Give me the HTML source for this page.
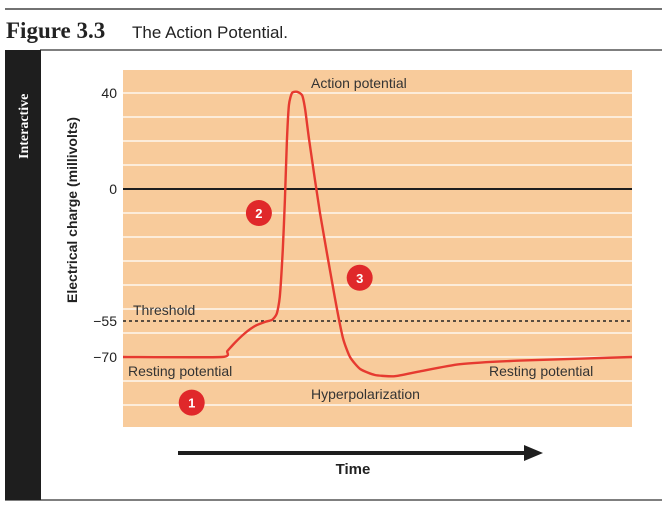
<!DOCTYPE html>
<html><head><meta charset="utf-8"><style>
body{margin:0;background:#fff;width:662px;height:505px;overflow:hidden;font-family:"Liberation Sans",sans-serif}
svg{display:block}
</style></head><body>
<svg width="662" height="505">
<line x1="5" y1="9" x2="662" y2="9" stroke="#444" stroke-width="1.5"/>
<text x="6" y="38" font-family="Liberation Serif,serif" font-weight="bold" font-size="23" fill="#222">Figure 3.3</text>
<text x="132" y="38" font-size="17" fill="#222">The Action Potential.</text>
<line x1="40" y1="50" x2="662" y2="50" stroke="#555" stroke-width="1.5"/>
<line x1="5" y1="500" x2="662" y2="500" stroke="#555" stroke-width="1.5"/>
<rect x="5" y="50" width="36" height="450" fill="#1e1e1e"/>
<text transform="translate(28,159) rotate(-90)" text-anchor="start" font-family="Liberation Serif,serif" font-weight="bold" font-size="14" fill="#fff">Interactive</text>
<rect x="123" y="70" width="509" height="357" fill="#f8cb9b"/>
<g id="grid"></g>
<g id="ticks"></g>
<text transform="translate(77,210) rotate(-90)" text-anchor="middle" font-weight="bold" font-size="14" fill="#222">Electrical charge (millivolts)</text>
<text x="133" y="315" font-size="14" fill="#333">Threshold</text>
<text x="311" y="88" font-size="14" fill="#333">Action potential</text>
<text x="128" y="376" font-size="14" fill="#333">Resting potential</text>
<text x="311" y="399" font-size="14" fill="#333">Hyperpolarization</text>
<text x="489" y="376" font-size="14" fill="#333">Resting potential</text>
<path id="curve" fill="none" stroke="#e63a30" stroke-width="2.4" stroke-linejoin="round"/>
<g id="badges"></g>
<line x1="178" y1="453" x2="526" y2="453" stroke="#1e1e1e" stroke-width="4"/>
<polygon points="524,445 543,453 524,461" fill="#1e1e1e"/>
<text x="353" y="474" text-anchor="middle" font-weight="bold" font-size="15" fill="#222">Time</text>
</svg>
<script>
const gridValues=[40,30,20,10,0,-10,-20,-30,-40,-50,-60,-70,-80,-90];
const tickValues=[40,0,-55,-70];
const tickLabels=["40","0","−55","−70"];
const thresholdValue=-55;
const timePoints=[0,19.4,20.5,22,24,26,28,29.3,30.2,30.8,31.4,31.8,32.2,32.6,33.2,34.2,35.2,35.8,36.6,38.7,41.6,43.2,44.6,46.6,49.5,53.4,58.3,66.2,78,100];
const voltages=[-70,-70,-67.5,-64,-60,-57,-55.3,-54.5,-52,-45,-25,-5,20,35,40,40.5,39,33,20,-10,-45,-62,-70,-75,-77.5,-78,-76,-73,-71.5,-70];
const badgeLabels=["1","2","3"];
const badgeTimes=[13.5,26.7,46.5];
const badgeVolts=[-89,-10,-37];
const NS="http://www.w3.org/2000/svg";
const y=v=>189-(v*2.4);
const x=t=>123+t*5.09;
function mk(tag,a,p){const e=document.createElementNS(NS,tag);for(const k in a)e.setAttribute(k,a[k]);p.appendChild(e);return e;}
const grid=document.getElementById('grid');
gridValues.forEach(v=>{
 const l=mk('line',{x1:123,x2:632,y1:y(v),y2:y(v),stroke:v===0?'#1e1e1e':'#fff','stroke-width':v===0?2:1.3},grid);
 
 
});
const th=mk('line',{x1:123,x2:632,y1:y(thresholdValue),y2:y(thresholdValue),stroke:'#222','stroke-width':1.5,'stroke-dasharray':'3,3'},grid);


const tk=document.getElementById('ticks');
tickValues.forEach((v,i)=>{
 const t=mk('text',{x:117,y:y(v)+5,'text-anchor':'end','font-size':14,fill:'#222'},tk);
 t.textContent=tickLabels[i];
 
 
});
let d='';
for(let i=0;i<timePoints.length;i++){
 const px=x(timePoints[i]),py=y(voltages[i]);
 if(i===0){d='M'+px+','+py;}
 else{const p0=[x(timePoints[Math.max(i-2,0)]),y(voltages[Math.max(i-2,0)])],p1=[x(timePoints[i-1]),y(voltages[i-1])],p3=[x(timePoints[Math.min(i+1,timePoints.length-1)]),y(voltages[Math.min(i+1,timePoints.length-1)])];
 const k=0.1;
 d+=` C${p1[0]+(px-p0[0])*k},${p1[1]+(py-p0[1])*k} ${px-(p3[0]-p1[0])*k},${py-(p3[1]-p1[1])*k} ${px},${py}`;}
}
document.getElementById('curve').setAttribute('d',d);
const bg=document.getElementById('badges');
badgeLabels.forEach((b,i)=>{
 const c=mk('circle',{cx:x(badgeTimes[i]),cy:y(badgeVolts[i]),r:13,fill:'#e0282a'},bg);
 
 
 const t=mk('text',{x:x(badgeTimes[i]),y:y(badgeVolts[i])+5,'text-anchor':'middle','font-size':13,'font-weight':'bold',fill:'#fff'},bg);
 t.textContent=b;
 
 
});
</script>
</body></html>
